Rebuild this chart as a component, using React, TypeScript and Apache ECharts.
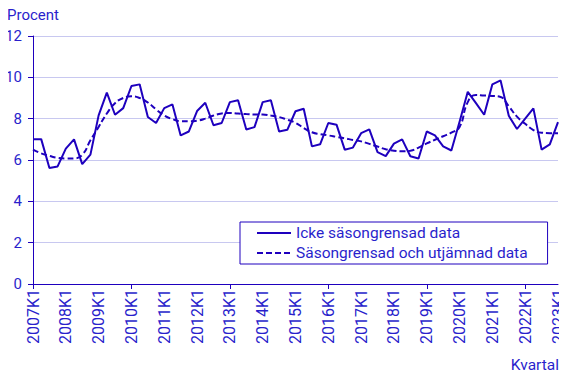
import React, { useEffect, useRef } from "react";
import * as echarts from "echarts";

const years = Array.from({ length: 17 }, (_, i) => 2007 + i);
const categories: string[] = [];
years.forEach((y) => {
  for (let q = 1; q <= 4; q++) {
    if (y === 2023 && q > 1) break;
    categories.push(`${y}K${q}`);
  }
});

const raw = [
  7.01, 7.01, 5.61, 5.69, 6.55, 7.0, 5.8, 6.26,
  8.16, 9.26, 8.19, 8.51, 9.58, 9.66, 8.08, 7.79,
  8.51, 8.69, 7.19, 7.38, 8.37, 8.77, 7.68, 7.79,
  8.8, 8.89, 7.48, 7.59, 8.8, 8.89, 7.38, 7.46,
  8.36, 8.48, 6.66, 6.76, 7.79, 7.71, 6.5, 6.6,
  7.3, 7.48, 6.38, 6.19, 6.79, 7.0, 6.18, 6.07,
  7.38, 7.19, 6.66, 6.46, 7.85, 9.3, 8.75, 8.19,
  9.66, 9.85, 8.14, 7.5, 8.0, 8.5, 6.5, 6.76,
  7.83,
];

const trend = [
  6.5, 6.32, 6.2, 6.1, 6.07, 6.08, 6.25, 6.95,
  7.6, 8.25, 8.75, 9.0, 9.08, 9.0, 8.78, 8.45,
  8.15, 7.98, 7.88, 7.87, 7.9, 8.0, 8.15, 8.25,
  8.28, 8.25, 8.22, 8.2, 8.2, 8.15, 8.08, 7.95,
  7.8, 7.55, 7.34, 7.25, 7.19, 7.12, 7.05, 6.97,
  6.9, 6.78, 6.65, 6.52, 6.45, 6.42, 6.45, 6.6,
  6.8, 6.98, 7.15, 7.32, 7.6, 8.8, 9.15, 9.12,
  9.1, 9.05, 8.6, 8.1, 7.75, 7.45, 7.32, 7.3,
  7.3,
];

const seriesNames = ["Icke säsongrensad data", "Säsongrensad och utjämnad data"];

const LINE = "#1e00be";
const TEXT = "#2a1fcc";
const FONT = "Roboto";

export default function App() {
  const ref = useRef<HTMLDivElement>(null);
  useEffect(() => {
    if (!ref.current) return;
    const chart = echarts.init(ref.current, undefined, { renderer: "svg" });
    chart.setOption({
      animation: false,
      textStyle: { fontFamily: FONT, color: TEXT },
      title: [
        {
          text: "Procent",
          left: 2,
          top: 2,
          textStyle: { fontSize: 15, fontWeight: "normal", color: TEXT, fontFamily: FONT },
        },
        {
          text: "Kvartal",
          right: 3,
          bottom: 0,
          textStyle: { fontSize: 15.5, fontWeight: "normal", color: TEXT, fontFamily: FONT },
        },
      ],
      grid: { left: 33, right: 9, top: 36, bottom: 94, containLabel: false },
      legend: {
        orient: "vertical",
        left: 240,
        top: 222,
        padding: [3, 20, 3, 16],
        itemGap: 4,
        itemWidth: 34,
        itemHeight: 14,
        borderColor: LINE,
        borderWidth: 1,
        backgroundColor: "#fff",
        itemStyle: { opacity: 0 },
        textStyle: { fontSize: 15.5, color: TEXT, fontFamily: FONT },
        data: seriesNames,
      },
      xAxis: {
        type: "category",
        data: categories,
        boundaryGap: false,
        axisLine: { lineStyle: { color: LINE, width: 1 } },
        axisTick: { show: true, interval: 11, length: 5, lineStyle: { color: LINE } },
        axisLabel: {
          interval: 3,
          rotate: 90,
          margin: 5,
          fontSize: 16,
          color: TEXT,
          fontFamily: FONT,
        },
        splitLine: { show: false },
      },
      yAxis: {
        type: "value",
        min: 0,
        max: 12,
        interval: 2,
        axisLine: { show: true, lineStyle: { color: LINE, width: 1 } },
        axisTick: { show: true, length: 5, lineStyle: { color: LINE } },
        axisLabel: { margin: 11, fontSize: 15, color: TEXT, fontFamily: FONT },
        splitLine: { show: true, lineStyle: { color: "#c8c8f0", width: 1 } },
      },
      series: [
        {
          name: seriesNames[0],
          type: "line",
          data: raw,
          symbol: "none",
          lineStyle: { color: LINE, width: 2 },
          itemStyle: { color: LINE },
          z: 3,
        },
        {
          name: seriesNames[1],
          type: "line",
          data: trend,
          symbol: "none",
          smooth: true,
          lineStyle: { color: LINE, width: 2, type: [6, 3] },
          itemStyle: { color: LINE },
          z: 2,
        },
      ],
    });
    return () => chart.dispose();
  }, []);
  return <div ref={ref} style={{ width: 567, height: 378, margin: -8 }} />;
}
